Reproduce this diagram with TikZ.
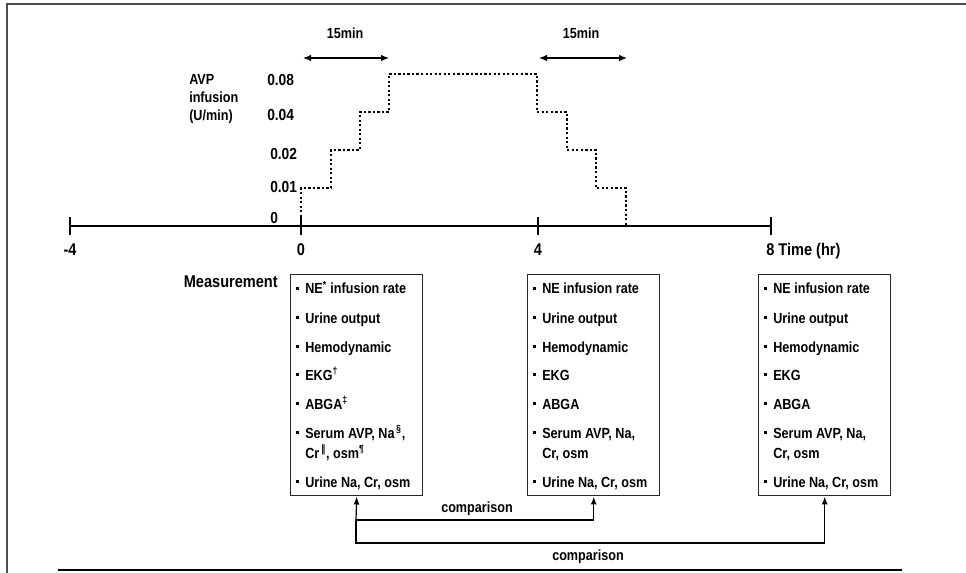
\documentclass[tikz,border=0pt]{standalone}
\usepackage{fontspec}
\setmainfont{Liberation Sans}[FakeStretch=0.86]
\newfontfamily\symfont{DejaVu Sans}[FakeStretch=0.86]
\usetikzlibrary{arrows.meta}
\newcommand\bul{\makebox[6.75pt][l]{\rule[0.28em]{2.2pt}{2.2pt}}}
\newcommand\boxrows[8]{%
  \node[item] (#1r1) at (#2+6,#3+20) {\bul#4};
  \node[item] (#1r2) at (#2+6,#3+49) {\bul Urine output};
  \node[item] (#1r3) at (#2+6,#3+78) {\bul Hemodynamic};
  \node[item] (#1r4) at (#2+6,#3+106) {\bul#5};
  \node[item] (#1r5) at (#2+6,#3+135) {\bul#6};
  \node[item] (#1r6) at (#2+6,#3+164) {\bul#7};
  \node[item] (#1r7) at (#2+15,#3+184) {#8};
  \node[item] (#1r8) at (#2+6,#3+213) {\bul Urine Na, Cr, osm};
}
\begin{document}
\begin{tikzpicture}[x=0.75pt,y=-0.75pt,
  font=\bfseries\fontsize{11}{13}\selectfont,
  big/.style={font=\bfseries\fontsize{12.7}{14}\selectfont},
  mid/.style={font=\bfseries\fontsize{12}{14}\selectfont},
  item/.style={inner sep=0pt, anchor=base west},
  lblw/.style={inner sep=0pt, anchor=base west},
  lblc/.style={inner sep=0pt, anchor=base},
  lble/.style={inner sep=0pt, anchor=base east},
  mbox/.style={draw=black!85, line width=1.1pt, anchor=north west, inner sep=0pt,
    minimum width=99pt, minimum height=165.75pt},
  axisline/.style={line width=1.8pt},
  dotline/.style={line width=1.7pt, dash pattern=on 1.7pt off 1.7pt},
  dbl/.style={line width=1pt, {Latex[length=6pt,width=5pt]}-{Latex[length=6pt,width=5pt]}},
  conn/.style={line width=0.9pt, -{Latex[length=6pt,width=4.5pt]}},
  ]
\useasboundingbox (0,0) rectangle (966,573);
% frame
\draw[black!70, line width=1.6pt] (7,573) -- (7,4) -- (966,4);
\draw[line width=1.3pt] (58,570) -- (902,570);

% y-axis labels
\node[lblw] (avp1) at (189,85) {AVP};
\node[lblw] (avp2) at (189,103) {infusion};
\node[lblw] (avp3) at (189,121) {(U/min)};
\node[lblw,mid] (y08) at (267,86) {0.08};
\node[lblw,mid] (y04) at (267,121) {0.04};
\node[lblw,mid] (y02) at (270,160) {0.02};
\node[lblw,mid] (y01) at (270,193) {0.01};
\node[lblw,mid] (y00) at (270,224) {0};

% 15 min arrows
\node[lblc] (m1) at (345,39) {15min};
\node[lblc] (m2) at (581,39) {15min};
\draw[dbl] (303,58) -- (389,58);
\draw[dbl] (539,58) -- (627,58);

% staircase
\draw[dotline] (301,226) -- (301,188) -- (331,188) -- (331,150) -- (360,150)
  -- (360,112) -- (389,112) -- (389,74) -- (537,74) -- (537,112) -- (567,112)
  -- (567,150) -- (596,150) -- (596,188) -- (626,188) -- (626,226);

% time axis
\draw[axisline] (70,226) -- (771,226);
\foreach \x in {70,301,538,771} \draw[axisline] (\x,217) -- (\x,235);
\node[lblc,big] (t1) at (70,256) {-4};
\node[lblc,big] (t2) at (301,256) {0};
\node[lblc,big] (t3) at (538,256) {4};
\node[lblw,big] (t4) at (766,256) {8 Time (hr)};

% measurement boxes
\node[lble,big] (meas) at (278,287) {Measurement};
\node[mbox] (b1) at (290,274) {};
\node[mbox] (b2) at (527,274) {};
\node[mbox] (b3) at (758,274) {};
\boxrows{a}{290}{274}{NE\textsuperscript{*} infusion rate}{EKG\textsuperscript{†}}{ABGA\textsuperscript{‡}}{Serum AVP, Na\textsuperscript{\,§},}{Cr\textsuperscript{\,{\symfont‖}}, osm\textsuperscript{¶}}
\boxrows{b}{527}{274}{NE infusion rate}{EKG}{ABGA}{Serum AVP, Na,}{Cr, osm}
\boxrows{c}{758}{274}{NE infusion rate}{EKG}{ABGA}{Serum AVP, Na,}{Cr, osm}

% comparisons
\coordinate (c1) at (356,520);
\coordinate (c2) at (356,543);
\draw[conn] (c1) -- (b1.south);
\draw[conn] (c1) -| (b2.south);
\draw[conn] (c1) -- (c2) -| (b3.south);
\node[lblc] (cmp1) at (477,512) {comparison};
\node[lblc] (cmp2) at (588,560) {comparison};
\end{tikzpicture}
\end{document}
